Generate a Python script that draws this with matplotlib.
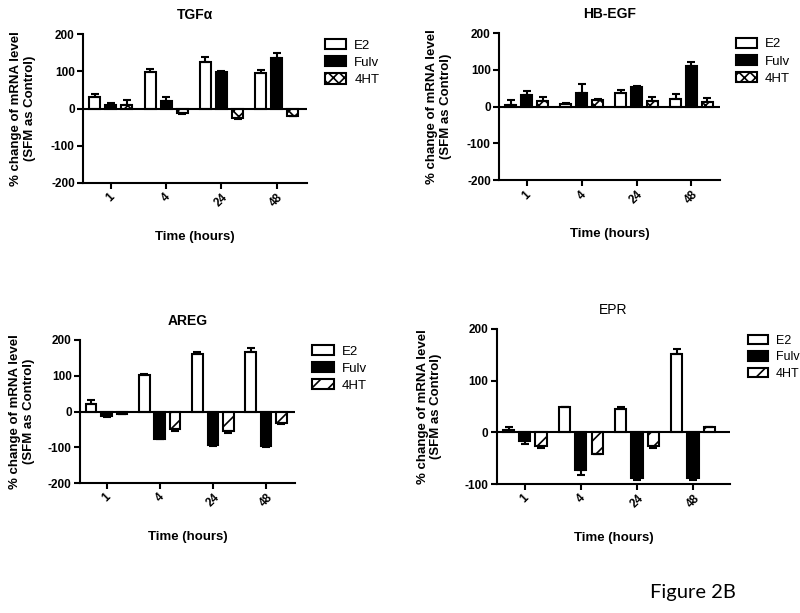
import matplotlib
matplotlib.use("Agg")
import matplotlib.pyplot as plt
import numpy as np

plt.rcParams["font.family"] = ["Liberation Sans", "DejaVu Sans"]
plt.rcParams["hatch.linewidth"] = 1.2
plt.rcParams["axes.unicode_minus"] = False

TIMES = ["1", "4", "24", "48"]
SERIES = ["E2", "Fulv", "4HT"]

# values (% change) and SEM
TGFA_VAL = {"E2": [30, 97, 126, 95], "Fulv": [10, 19, 99, 135], "4HT": [10, -12, -26, -19]}
TGFA_ERR = {"E2": [8, 9, 11, 9], "Fulv": [4, 13, 2, 15], "4HT": [12, 2, 2, 1]}
HBEGF_VAL = {"E2": [5, 7, 38, 21], "Fulv": [32, 36, 53, 111], "4HT": [16, 18, 15, 14]}
HBEGF_ERR = {"E2": [13, 4, 7, 14], "Fulv": [11, 26, 2, 10], "4HT": [9, 4, 12, 9]}
AREG_VAL = {"E2": [22, 102, 161, 165], "Fulv": [-13, -76, -95, -97], "4HT": [-7, -48, -54, -32]}
AREG_ERR = {"E2": [10, 4, 6, 12], "Fulv": [2, 1, 1, 1], "4HT": [1, 6, 6, 3]}
EPR_VAL = {"E2": [5, 50, 46, 152], "Fulv": [-17, -72, -88, -88], "4HT": [-27, -41, -27, 10]}
EPR_ERR = {"E2": [5, 0, 4, 9], "Fulv": [5, 10, 4, 4], "4HT": [3, 0, 3, 0]}

def style_for(name, pattern):
    if name == "E2":
        return dict(facecolor="white", edgecolor="black")
    if name == "Fulv":
        return dict(facecolor="black", edgecolor="black")
    if pattern == "cross":
        return dict(facecolor="white", edgecolor="black", hatch="XXX")
    return dict(facecolor="white", edgecolor="black", hatch="//")

def panel(rect, title, vals, errs, ylim, yticks, xlim, pattern, leg_xy,
          bold_title=True, ylpad=11, legsize=9.5):
    ax = fig.add_axes(rect)
    x = np.arange(len(TIMES))
    w, off = 0.2, 0.29
    for i, s in enumerate(SERIES):
        v = np.array(vals[s], float); e = np.array(errs[s], float)
        ax.bar(x + (i - 1) * off, v, w, linewidth=1.5, label=s, **style_for(s, pattern))
        lo = np.where(v < 0, e, 0); hi = np.where(v >= 0, e, 0)
        ax.errorbar(x + (i - 1) * off, v, yerr=[lo, hi], fmt="none", ecolor="black",
                    elinewidth=1.5, capsize=3, capthick=1.5)
    ax.axhline(0, color="black", lw=1.5, zorder=5)
    ax.set_xlim(*xlim); ax.set_ylim(*ylim)
    ax.set_yticks(yticks)
    ax.set_xticks(x); ax.set_xticklabels(TIMES, rotation=45, fontweight="bold", fontsize=8.5)
    for t in ax.get_yticklabels():
        t.set_fontweight("bold"); t.set_fontsize(8.5)
    for sp in ("top", "right"):
        ax.spines[sp].set_visible(False)
    for sp in ("left", "bottom"):
        ax.spines[sp].set_linewidth(1.5)
    ax.tick_params(width=1.5, length=4, pad=2)
    ax.set_title(title, fontsize=10, fontweight="bold" if bold_title else "normal", pad=11)
    ax.set_xlabel("Time (hours)", fontsize=9.5, fontweight="bold", labelpad=16)
    ax.set_ylabel("% change of mRNA level\n(SFM as Control)", fontsize=9.5, fontweight="bold",
                  labelpad=ylpad)
    ax.legend(loc="upper left", bbox_to_anchor=leg_xy, bbox_transform=fig.transFigure,
              frameon=False, fontsize=legsize, handlelength=1.6, handleheight=0.8,
              labelspacing=0.35, borderaxespad=0, handletextpad=0.6)
    return ax

fig = plt.figure(figsize=(8, 6.13), dpi=100)

panel([0.104, 0.7015, 0.28, 0.243], "TGF\u03b1", TGFA_VAL, TGFA_ERR, (-200, 200),
      [-200, -100, 0, 100, 200], (-0.5, 3.55), "cross", (0.4, 0.945))
panel([0.624, 0.706, 0.276, 0.240], "HB-EGF", HBEGF_VAL, HBEGF_ERR, (-200, 200),
      [-200, -100, 0, 100, 200], (-0.5, 3.52), "cross", (0.913, 0.947))
panel([0.100, 0.212, 0.269, 0.2334], "AREG", AREG_VAL, AREG_ERR, (-200, 200),
      [-200, -100, 0, 100, 200], (-0.5, 3.55), "brick", (0.384, 0.446), ylpad=9)
panel([0.621, 0.2104, 0.2915, 0.2529], "EPR", EPR_VAL, EPR_ERR, (-100, 200),
      [-100, 0, 100, 200], (-0.5, 3.66), "brick", (0.929, 0.462),
      bold_title=False, ylpad=16, legsize=9)

fig.text(0.812, 0.025, "Figure 2B", fontsize=14.5, family=["Lato", "DejaVu Sans"])

fig.savefig("out.png", dpi=100)
